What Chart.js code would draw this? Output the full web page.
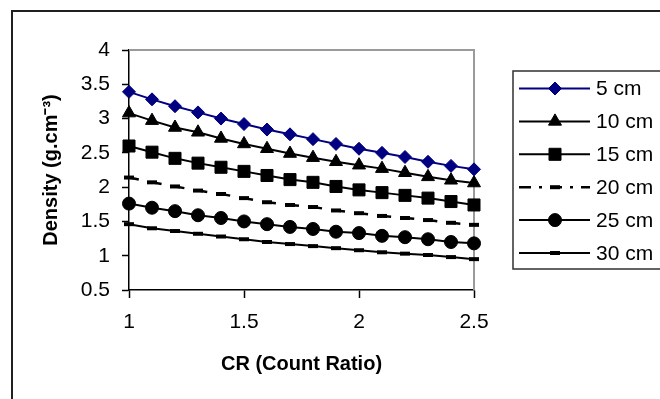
<!DOCTYPE html>
<html><head><meta charset="utf-8">
<script src="https://cdn.jsdelivr.net/npm/chart.js@4.4.1/dist/chart.umd.min.js"></script>
<style>html,body{margin:0;padding:0;background:#fff;overflow:hidden}canvas{display:block}</style>
</head><body>
<canvas id="c" width="660" height="399"></canvas>
<script>
// ---- data ----
const crValues = [1.0, 1.1, 1.2, 1.3, 1.4, 1.5, 1.6, 1.7, 1.8, 1.9, 2.0, 2.1, 2.2, 2.3, 2.4, 2.5];
const xTicks = [1, 1.5, 2, 2.5];
const yTicks = [0.5, 1, 1.5, 2, 2.5, 3, 3.5, 4];
const seriesNames = ['5 cm', '10 cm', '15 cm', '20 cm', '25 cm', '30 cm'];
const d5cm  = [3.39, 3.28, 3.18, 3.09, 3.00, 2.92, 2.84, 2.77, 2.70, 2.63, 2.56, 2.50, 2.44, 2.37, 2.31, 2.26];
const d10cm = [3.08, 2.97, 2.87, 2.80, 2.71, 2.63, 2.56, 2.49, 2.43, 2.37, 2.32, 2.27, 2.21, 2.15, 2.10, 2.06];
const d15cm = [2.60, 2.51, 2.42, 2.35, 2.29, 2.23, 2.17, 2.11, 2.07, 2.01, 1.96, 1.92, 1.88, 1.84, 1.79, 1.74];
const d20cm = [2.14, 2.07, 2.01, 1.95, 1.90, 1.84, 1.78, 1.74, 1.71, 1.66, 1.62, 1.58, 1.55, 1.52, 1.48, 1.45];
const d25cm = [1.76, 1.70, 1.65, 1.59, 1.55, 1.50, 1.46, 1.42, 1.39, 1.35, 1.33, 1.29, 1.27, 1.24, 1.20, 1.18];
const d30cm = [1.46, 1.40, 1.36, 1.32, 1.28, 1.24, 1.20, 1.17, 1.14, 1.11, 1.08, 1.05, 1.03, 1.01, 0.98, 0.95];
const xTitle = 'CR (Count Ratio)';
const yTitle = 'Density (g.cm\u207B\u00B3)';

const FONT = '"Liberation Sans", Arial, Helvetica, sans-serif';
const pts = arr => arr.map((v, i) => ({x: crValues[i], y: v}));

const styles = [
  {color: '#000080', pointStyle: 'rectRot', radius: 6.5, pbw: 1, dash: []},
  {color: '#000000', pointStyle: 'triangle', radius: 7.5, pbw: 1, dash: []},
  {color: '#000000', pointStyle: 'rect', radius: 8.5, pbw: 1, dash: []},
  {color: '#000000', pointStyle: 'line', radius: 5, pbw: 4, dash: [10, 13.2]},
  {color: '#000000', pointStyle: 'circle', radius: 6.5, pbw: 1, dash: []},
  {color: '#000000', pointStyle: 'line', radius: 5, pbw: 4, dash: []}
];
const seriesData = [d5cm, d10cm, d15cm, d20cm, d25cm, d30cm];

const datasets = seriesData.map((d, k) => ({
  label: seriesNames[k],
  data: pts(d),
  borderColor: styles[k].color,
  backgroundColor: styles[k].color,
  borderWidth: k === 3 ? 2.5 : 2,
  borderDash: styles[k].dash,
  pointStyle: styles[k].pointStyle,
  pointRadius: styles[k].radius,
  pointBorderWidth: styles[k].pbw,
  pointBackgroundColor: styles[k].color,
  pointBorderColor: styles[k].color,
  tension: 0,
  clip: false
}));

const frame = {
  id: 'frame',
  beforeDraw(chart) {
    const ctx = chart.ctx;
    ctx.save();
    ctx.fillStyle = '#fff';
    ctx.fillRect(0, 0, chart.width, chart.height);
    ctx.strokeStyle = '#202020';
    ctx.lineWidth = 2;
    ctx.beginPath();
    ctx.moveTo(12, 420); ctx.lineTo(12, 11); ctx.lineTo(680, 11);
    ctx.stroke();
    ctx.restore();
  },
  beforeDatasetsDraw(chart) {
    const {ctx, chartArea: a} = chart;
    ctx.save();
    ctx.strokeStyle = '#9a9a9a';
    ctx.lineWidth = 2;
    ctx.beginPath();
    ctx.moveTo(a.left, a.top); ctx.lineTo(a.right, a.top); ctx.lineTo(a.right, a.bottom);
    ctx.stroke();
    ctx.restore();
  },
  afterDraw(chart) {
    const ctx = chart.ctx;
    ctx.save();
    ctx.strokeStyle = '#303030';
    ctx.lineWidth = 1.5;
    ctx.strokeRect(513, 71, 200, 198);
    chart.data.datasets.forEach((ds, k) => {
      const y = 88.5 + k * 32.9;
      ctx.strokeStyle = ds.borderColor;
      ctx.fillStyle = ds.borderColor;
      ctx.lineWidth = ds.borderWidth;
      ctx.setLineDash(ds.borderDash && ds.borderDash.length ? [12, 8, 3, 8] : []);
      ctx.beginPath();
      ctx.moveTo(519, y); ctx.lineTo(590, y);
      ctx.stroke();
      ctx.setLineDash([]);
      ctx.lineWidth = ds.pointBorderWidth;
      Chart.helpers.drawPoint(ctx, {pointStyle: ds.pointStyle, radius: ds.pointRadius, borderWidth: ds.pointBorderWidth, rotation: 0}, 555, y);
      ctx.fillStyle = '#000';
      ctx.font = '21px ' + FONT;
      ctx.textBaseline = 'middle';
      ctx.textAlign = 'left';
      ctx.fillText(ds.label, 596, y + 1);
    });
    ctx.restore();
  }
};

new Chart(document.getElementById('c'), {
  type: 'line',
  data: {datasets},
  plugins: [frame],
  options: {
    responsive: false,
    animation: false,
    devicePixelRatio: 1,
    layout: {padding: {left: 14, top: 50, right: 186, bottom: 0}},
    plugins: {legend: {display: false}, tooltip: {enabled: false}},
    scales: {
      x: {
        type: 'linear', min: 1, max: 2.5,
        afterBuildTicks: s => { s.ticks = xTicks.map(v => ({value: v})); },
        afterFit: s => { s.height = 399 - 290; },
        grid: {display: true, drawOnChartArea: false, drawTicks: true, tickLength: 8, color: '#000', tickWidth: 1.5},
        border: {display: true, color: '#000', width: 1.5},
        ticks: {color: '#000', font: {family: FONT, size: 21}, padding: 12, maxRotation: 0, autoSkip: false,
                callback: v => String(v)},
        title: {display: true, text: xTitle, color: '#000', font: {family: FONT, size: 20, weight: 'bold'},
                padding: {top: 0, bottom: 23}}
      },
      y: {
        type: 'linear', min: 0.5, max: 4,
        afterBuildTicks: s => { s.ticks = yTicks.map(v => ({value: v})); },
        afterFit: s => { s.width = 129 - 14; },
        grid: {display: true, drawOnChartArea: false, drawTicks: true, tickLength: 7, color: '#000', tickWidth: 1.5},
        border: {display: true, color: '#000', width: 1.5},
        ticks: {color: '#000', font: {family: FONT, size: 21}, padding: 12, autoSkip: false,
                callback: v => String(v)},
        title: {display: true, text: yTitle, color: '#000', font: {family: FONT, size: 20, weight: 'bold'},
                padding: {top: 25, bottom: 0}}
      }
    }
  }
});
</script>
</body></html>
